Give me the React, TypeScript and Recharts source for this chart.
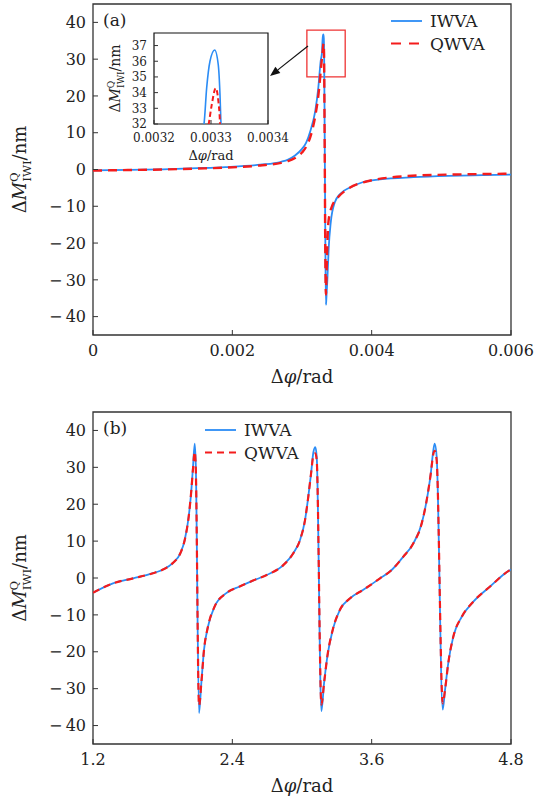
import { LineChart, Line, XAxis, YAxis, ReferenceArea, ReferenceLine, Legend } from 'recharts'

const FONT = '"DejaVu Serif", "Liberation Serif", serif'
const BLUE = '#2b8cf5'
const RED = '#f41c1c'
const INK = '#222'

const seriesNames = ['IWVA', 'QWVA']

// panel (a)
const topPhiI = [0, 0.0005, 0.001, 0.0015, 0.0019, 0.0024, 0.0027, 0.0028, 0.0029, 0.003, 0.00306, 0.00312, 0.00319, 0.003234, 0.003268, 0.0032877, 0.0032924, 0.0032982, 0.0033065, 0.0033128, 0.0033158, 0.0033175, 0.003326, 0.003336, 0.003344, 0.00335, 0.003364, 0.003383, 0.003412, 0.00347, 0.00355, 0.00369, 0.00388, 0.00412, 0.0046, 0.0051, 0.0056, 0.006]
const topIwva = [-0.25, -0.12, 0.05, 0.35, 0.65, 1.3, 2.1, 2.7, 3.8, 5.6, 7.3, 10.5, 15.9, 22.2, 29.5, 32, 34.3, 36.0, 36.72, 35.76, 33.85, 32, 8, -22, -36.8, -35, -30, -21.5, -14.5, -9.0, -6.6, -4.9, -3.4, -2.7, -2.1, -1.75, -1.55, -1.4]
const topPhiQ = [0, 0.0005, 0.001, 0.0015, 0.0019, 0.0024, 0.0027, 0.0028, 0.0029, 0.003, 0.00306, 0.00313, 0.00319, 0.00324, 0.00327, 0.003285, 0.003296, 0.0033012, 0.0033082, 0.003313, 0.0033158, 0.003326, 0.003335, 0.003343, 0.00335, 0.00336, 0.003378, 0.003426, 0.00352, 0.00364, 0.00388, 0.0045, 0.0052, 0.0058, 0.006]
const topQwva = [-0.3, -0.15, 0.0, 0.25, 0.5, 1.1, 1.8, 2.3, 3.1, 4.6, 6.2, 9.5, 14.5, 21, 27, 30, 32, 33.2, 34.28, 33.43, 32, 5, -24, -34, -30, -23, -14.5, -10.2, -7.5, -5.5, -3.5, -1.8, -1.35, -1.2, -1.15]

// panel (b)
const botPhi = [1.2, 1.372, 1.545, 1.717, 1.803, 1.889, 1.952, 1.99, 2.024, 2.047, 2.061, 2.076, 2.085, 2.113, 2.133, 2.156, 2.19, 2.248, 2.348, 2.463, 2.578, 2.696, 2.839, 2.925, 2.983, 3.026, 3.054, 3.078, 3.098, 3.115, 3.127, 3.167, 3.19, 3.218, 3.265, 3.327, 3.414, 3.528, 3.672, 3.77, 3.873, 3.959, 4.031, 4.074, 4.109, 4.131, 4.143, 4.16, 4.212, 4.232, 4.26, 4.303, 4.376, 4.476, 4.62, 4.783, 4.8]
const botIwva = [-4.0, -1.45, -0.1, 1.3, 2.3, 4.1, 6.7, 10.3, 16.6, 23.8, 30, 36.4, 31, -36.6, -28.5, -19.5, -13.2, -7.7, -4.1, -2.3, -0.7, 0.8, 3.5, 6.7, 10.3, 15.7, 22, 28.3, 34.1, 35.5, 32.8, -36.1, -28.5, -21.3, -14, -8.6, -5.5, -3.2, -0.1, 2.1, 5.8, 9.4, 14.8, 21.1, 28.3, 34.6, 36.4, 32.8, -35.7, -30.3, -23, -15.9, -10.5, -6.4, -2.3, 2.0, 2.3]
const botQwva = [-4.0, -1.45, -0.1, 1.3, 2.3, 4.1, 6.7, 10.3, 16.6, 23.8, 29.5, 34.2, 30, -34.6, -28.5, -19.5, -13.2, -7.7, -4.1, -2.3, -0.7, 0.8, 3.5, 6.7, 10.3, 15.7, 22, 28.3, 33.2, 33.8, 31.8, -34.3, -28.5, -21.3, -14, -8.6, -5.5, -3.2, -0.1, 2.1, 5.8, 9.4, 14.8, 21.1, 28.3, 33.6, 34.5, 31.8, -34.0, -30.3, -23, -15.9, -10.5, -6.4, -2.3, 2.0, 2.3]

const yTicks = [-40, -30, -20, -10, 0, 10, 20, 30, 40]
const topXTicks = [0, 0.002, 0.004, 0.006]
const botXTicks = [1.2, 2.4, 3.6, 4.8]
const insetXTicks = [0.0032, 0.0033, 0.0034]
const insetYTicks = [32, 33, 34, 35, 36, 37]

const toRows = (xs: number[], ys: number[]) => xs.map((x, i) => ({ x, y: ys[i] }))
const topI = toRows(topPhiI, topIwva)
const topQ = toRows(topPhiQ, topQwva)
const botI = toRows(botPhi, botIwva)
const botQ = toRows(botPhi, botQwva)

const fmtY = (v: number) => (v < 0 ? `\u2212\u2009${-v}` : String(v))

function XTitle({ viewBox, dy = 48, size = 18 }: any) {
  const cx = viewBox.x + viewBox.width / 2
  return (
    <text x={cx} y={viewBox.y + dy} textAnchor="middle" fontFamily={FONT} fontSize={size} fill={INK}>
      Δ<tspan fontStyle="italic">φ</tspan>/rad
    </text>
  )
}

function YTitle({ viewBox, bx = 26, size = 18 }: any) {
  const cx = viewBox.x + bx
  const cy = viewBox.y + viewBox.height / 2
  const s = size * 0.65
  return (
    <text transform={`translate(${cx},${cy}) rotate(-90)`} textAnchor="middle" fontFamily={FONT} fontSize={size} fill={INK}>
      Δ<tspan fontStyle="italic">M</tspan>
      <tspan fontSize={s} dy={-size * 0.45}>Q</tspan>
      <tspan fontSize={s} dx={-s * 0.8} dy={size * 0.72}>IWI</tspan>
      <tspan dy={-size * 0.27}>/nm</tspan>
    </text>
  )
}

function LegendBox({ x, y, dash }: { x: number; y: number; dash: string }) {
  return (
    <svg width={534} height={70} style={{ display: 'block' }}>
      <line x1={x} x2={x + 31} y1={y} y2={y} stroke={BLUE} strokeWidth={1.8} />
      <text x={x + 39} y={y + 6} fontFamily={FONT} fontSize={17} fill={INK}>{seriesNames[0]}</text>
      <line x1={x} x2={x + 31} y1={y + 22.5} y2={y + 22.5} stroke={RED} strokeWidth={2.2} strokeDasharray={dash} />
      <text x={x + 39} y={y + 28.5} fontFamily={FONT} fontSize={17} fill={INK}>{seriesNames[1]}</text>
    </svg>
  )
}

function Arrow(props: any) {
  const { x1, y1, x2, y2 } = props
  const a = Math.atan2(y2 - y1, x2 - x1)
  const L = 10, W = 4
  const bx = x2 - L * Math.cos(a), by = y2 - L * Math.sin(a)
  const px = -Math.sin(a) * W, py = Math.cos(a) * W
  return (
    <g>
      <line x1={x1} y1={y1} x2={bx} y2={by} stroke="#111" strokeWidth={1.2} />
      <polygon points={`${x2},${y2} ${bx + px},${by + py} ${bx - px},${by - py}`} fill="#111" />
    </g>
  )
}

const tickStyle = { fill: INK, fontSize: 16, fontFamily: FONT }
const insetTick = { fill: INK, fontSize: 12, fontFamily: FONT }
const legendWrap = { position: 'absolute' as const, left: 0, top: 0, width: 534, height: 70, pointerEvents: 'none' as const }

export default function App() {
  return (
    <div style={{ position: 'absolute', left: 0, top: 0, width: 534, height: 803, background: '#fff' }}>
      <div style={{ position: 'absolute', left: 0, top: 0 }}>
        <LineChart width={534} height={400} margin={{ top: 4, right: 23, bottom: 0, left: 0 }}>
          <XAxis type="number" dataKey="x" domain={[0, 0.006]} ticks={topXTicks} interval={0}
            allowDataOverflow axisLine={false} tickSize={-5} tickMargin={15} tickLine={{ stroke: '#333' }}
            tick={tickStyle} height={65} label={<XTitle />} />
          <YAxis type="number" domain={[-45, 45]} ticks={yTicks} interval={0} allowDataOverflow
            axisLine={false} tickSize={-5} tickMargin={12} tickLine={{ stroke: '#333' }}
            tick={tickStyle} tickFormatter={fmtY} width={93} label={<YTitle />} />
          <Line data={topI} dataKey="y" name={seriesNames[0]} type="monotone" stroke={BLUE} strokeWidth={1.8} dot={false} isAnimationActive={false} />
          <Line data={topQ} dataKey="y" name={seriesNames[1]} type="monotone" stroke={RED} strokeWidth={2.4} strokeDasharray="9 6" dot={false} isAnimationActive={false} />
          <ReferenceArea x1={0.00307} x2={0.00362} y1={25.2} y2={37.9} fill="none" stroke="#ee3333" strokeWidth={1.3} />
          <ReferenceLine segment={[{ x: 0.003086, y: 33.6 }, { x: 0.002541, y: 25.4 }]} shape={<Arrow />} />
          <ReferenceArea x1={0} x2={0.006} y1={-45} y2={45} fill="none" stroke="#333" strokeWidth={1.3}
            label={{ value: '(a)', position: 'insideTopLeft', offset: 10, fill: INK, fontSize: 17, fontFamily: FONT }} />
          <Legend layout="vertical" align="center" verticalAlign="middle" wrapperStyle={legendWrap}
            content={() => <LegendBox x={391} y={21} dash="10 8" />} />
        </LineChart>

        <div style={{ position: 'absolute', left: 0, top: 0 }}>
          <LineChart width={300} height={172} margin={{ top: 33, right: 32, bottom: 0, left: 0 }}>
            <ReferenceArea x1={0.0032} x2={0.0034} y1={32} y2={37.8} fill="#fff" fillOpacity={1} stroke="#111" strokeWidth={1.2} />
            <XAxis type="number" dataKey="x" domain={[0.0032, 0.0034]} ticks={insetXTicks} interval={0}
              allowDataOverflow axisLine={false} tickSize={-4} tickMargin={13} tickLine={{ stroke: '#333' }}
              tick={insetTick} height={48} label={<XTitle dy={36} size={13} />} />
            <YAxis type="number" domain={[32, 37.8]} ticks={insetYTicks} interval={0} allowDataOverflow
              axisLine={false} tickSize={-4} tickMargin={11} tickLine={{ stroke: '#333' }}
              tick={insetTick} width={154} label={<YTitle bx={120} size={14} />} />
            <Line data={topI} dataKey="y" type="monotone" stroke={BLUE} strokeWidth={1.6} dot={false} isAnimationActive={false} />
            <Line data={topQ} dataKey="y" type="monotone" stroke={RED} strokeWidth={2} strokeDasharray="5 3" dot={false} isAnimationActive={false} />
          </LineChart>
        </div>
      </div>

      <div style={{ position: 'absolute', left: 0, top: 400 }}>
        <LineChart width={534} height={403} margin={{ top: 12, right: 23, bottom: 0, left: 0 }}>
          <XAxis type="number" dataKey="x" domain={[1.2, 4.8]} ticks={botXTicks} interval={0}
            allowDataOverflow axisLine={false} tickSize={-5} tickMargin={15} tickLine={{ stroke: '#333' }}
            tick={tickStyle} height={59} label={<XTitle />} />
          <YAxis type="number" domain={[-45, 45]} ticks={yTicks} interval={0} allowDataOverflow
            axisLine={false} tickSize={-5} tickMargin={12} tickLine={{ stroke: '#333' }}
            tick={tickStyle} tickFormatter={fmtY} width={93} label={<YTitle />} />
          <Line data={botI} dataKey="y" name={seriesNames[0]} type="monotone" stroke={BLUE} strokeWidth={1.8} dot={false} isAnimationActive={false} />
          <Line data={botQ} dataKey="y" name={seriesNames[1]} type="monotone" stroke={RED} strokeWidth={2.2} strokeDasharray="7 5" dot={false} isAnimationActive={false} />
          <ReferenceArea x1={1.2} x2={4.8} y1={-45} y2={45} fill="none" stroke="#333" strokeWidth={1.3}
            label={{ value: '(b)', position: 'insideTopLeft', offset: 10, fill: INK, fontSize: 17, fontFamily: FONT }} />
          <Legend layout="vertical" align="center" verticalAlign="middle" wrapperStyle={legendWrap}
            content={() => <LegendBox x={205} y={30} dash="7 5" />} />
        </LineChart>
      </div>
    </div>
  )
}
